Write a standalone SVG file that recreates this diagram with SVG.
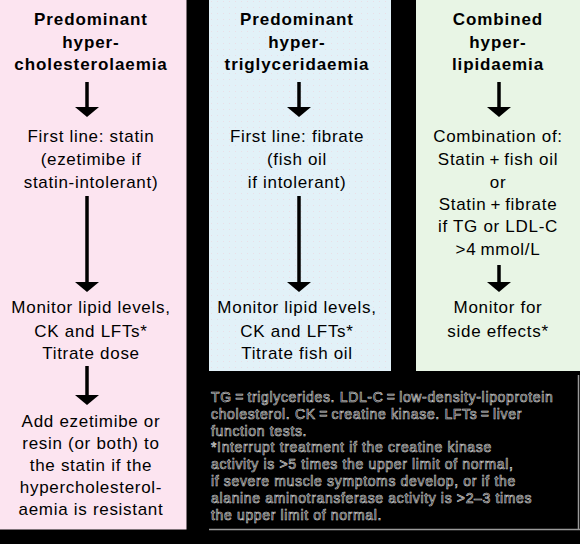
<svg xmlns="http://www.w3.org/2000/svg" width="580" height="544" viewBox="0 0 580 544">
<style>
.h{font-family:"Liberation Sans",Arial,sans-serif;font-size:17px;font-weight:bold;fill:#000;text-anchor:middle;letter-spacing:0.9px}
.t{font-family:"Liberation Sans",Arial,sans-serif;font-size:17px;fill:#000;text-anchor:middle;letter-spacing:0.7px}
.f{font-family:"Liberation Sans",Arial,sans-serif;font-size:14px;fill:#000;stroke:#d4d4d4;stroke-width:0.6px;letter-spacing:0.65px}
.ar{stroke:#000;stroke-width:3.5;marker-end:url(#ah)}
</style>
<defs>
<marker id="ah" markerUnits="userSpaceOnUse" markerWidth="10" markerHeight="24" viewBox="0 0 10 24" refX="0" refY="12" orient="auto">
<path d="M0,0 L10,12 L0,24 Z" fill="#000"/>
</marker>
<pattern id="dots" width="6" height="6" patternUnits="userSpaceOnUse">
<rect width="6" height="6" fill="#e2f1f8"/>
<circle cx="1.5" cy="1.5" r="0.5" fill="#ecd8e2"/>
</pattern>
</defs>
<rect width="580" height="544" fill="#000"/>
<g id="panel-chol">
<rect x="0" y="0" width="186.5" height="529.5" fill="#fce4f0"/>
<text class="h" x="91" y="25">Predominant</text>
<text class="h" x="91" y="47.5">hyper-</text>
<text class="h" x="91" y="70">cholesterolaemia</text>
<text class="t" x="91" y="141.7">First line: statin</text>
<text class="t" x="91" y="165">(ezetimibe if</text>
<text class="t" x="91" y="188">statin-intolerant)</text>
<text class="t" x="91" y="313">Monitor lipid levels,</text>
<text class="t" x="91" y="336.5">CK and LFTs*</text>
<text class="t" x="91" y="359">Titrate dose</text>
<text class="t" x="91" y="426.5">Add ezetimibe or</text>
<text class="t" x="91" y="448.5">resin (or both) to</text>
<text class="t" x="91" y="470.5">the statin if the</text>
<text class="t" x="91" y="492.5">hypercholesterol-</text>
<text class="t" x="91" y="515">aemia is resistant</text>
</g>
<g id="panel-tg">
<rect x="209" y="0" width="182" height="371" fill="url(#dots)"/>
<text class="h" x="297" y="25">Predominant</text>
<text class="h" x="297" y="47.5">hyper-</text>
<text class="h" x="297" y="70">triglyceridaemia</text>
<text class="t" x="297" y="141.7">First line: fibrate</text>
<text class="t" x="297" y="165">(fish oil</text>
<text class="t" x="297" y="188">if intolerant)</text>
<text class="t" x="297" y="313">Monitor lipid levels,</text>
<text class="t" x="297" y="336.5">CK and LFTs*</text>
<text class="t" x="297" y="359">Titrate fish oil</text>
</g>
<g id="panel-comb">
<rect x="416" y="0" width="164" height="371" fill="#e8f5e5"/>
<text class="h" x="498" y="25">Combined</text>
<text class="h" x="498" y="47.5">hyper-</text>
<text class="h" x="498" y="70">lipidaemia</text>
<text class="t" x="498" y="141.7">Combination of:</text>
<text class="t" x="498" y="165">Statin&#8201;+&#8201;fish oil</text>
<text class="t" x="498" y="188">or</text>
<text class="t" x="498" y="209.5">Statin&#8201;+&#8201;fibrate</text>
<text class="t" x="498" y="232">if TG or LDL-C</text>
<text class="t" x="498" y="255">&gt;4&#8201;mmol/L</text>
<text class="t" x="498" y="313">Monitor for</text>
<text class="t" x="498" y="336.5">side effects*</text>
</g>
<g id="connectors">
<line class="ar" x1="87" y1="82" x2="87" y2="107"/>
<line class="ar" x1="87" y1="196" x2="87" y2="282"/>
<line class="ar" x1="87" y1="366" x2="87" y2="395"/>
<line class="ar" x1="299" y1="82" x2="299" y2="107"/>
<line class="ar" x1="299" y1="196" x2="299" y2="282"/>
<line class="ar" x1="499" y1="82" x2="499" y2="107"/>
<line class="ar" x1="499" y1="265" x2="499" y2="282"/>
</g>
<g id="footnote">
<line x1="209" y1="529.5" x2="580" y2="529.5" stroke="#9a9a9a" stroke-width="1.5"/>
<line x1="578.5" y1="375" x2="578.5" y2="529.5" stroke="#9a9a9a" stroke-width="1.5"/>
<text class="f" x="211" y="402">TG&#8201;=&#8201;triglycerides. LDL-C&#8201;=&#8201;low-density-lipoprotein</text>
<text class="f" x="211" y="418.8">cholesterol. CK&#8201;=&#8201;creatine kinase. LFTs&#8201;=&#8201;liver</text>
<text class="f" x="211" y="435.6">function tests.</text>
<text class="f" x="211" y="452.4">*Interrupt treatment if the creatine kinase</text>
<text class="f" x="211" y="469.2">activity is &gt;5 times the upper limit of normal,</text>
<text class="f" x="211" y="486">if severe muscle symptoms develop, or if the</text>
<text class="f" x="211" y="502.8">alanine aminotransferase activity is &gt;2–3 times</text>
<text class="f" x="211" y="519.6">the upper limit of normal.</text>
</g>
</svg>
